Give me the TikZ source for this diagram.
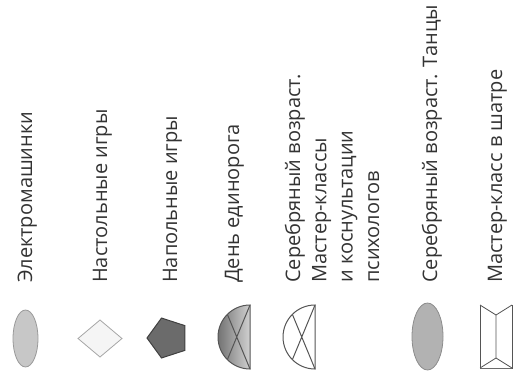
\documentclass[tikz,border=0pt]{standalone}
\usepackage{fontspec}
\setmainfont{Open Sans}
\usepackage{tikz}
\usetikzlibrary{calc}
\definecolor{lineG}{HTML}{555555}
\tikzset{
  legtext/.style={rotate=90, anchor=base west, inner sep=0pt,
                  font=\fontsize{20}{26.3}\selectfont, text=black!80},
  elLight/.style={draw=black!40, fill=black!22, line width=0.8pt},
  elMid/.style={draw=black!45, fill=black!30, line width=0.8pt},
  diaW/.style={draw=black!35, fill=black!4, line width=0.8pt},
  pentD/.style={draw=black!75, fill=black!58, line width=1pt},
  halfG/.style={draw=lineG, left color=black!55, right color=black!18,
                line width=1pt},
  halfW/.style={draw=lineG, fill=white, line width=1pt},
  tentW/.style={draw=lineG, fill=white, line width=0.8pt},
}
\begin{document}
\begin{tikzpicture}[x=1pt, y=-1pt]
    \useasboundingbox (0,0) rectangle (513,374);
    %% legend texts
    \node[legtext] (t1) at (32,283)  {Электромашинки};
    \node[legtext] (t2) at (107,283) {Настольные игры};
    \node[legtext] (t3) at (177,283) {Напольные игры};
    \node[legtext] (t4) at (239,283) {День единорога};
    \node[legtext, align=left] (t5) at (379,283)
      {Серебряный возраст.\\Мастер-классы\\и коснультации\\психологов};
    \node[legtext] (t6) at (437,283) {Серебряный возраст. Танцы};
    \node[legtext] (t7) at (502,283) {Мастер-класс в шатре};
    %% symbols
    \draw[elLight] (25.5,338.5) ellipse[x radius=12.5, y radius=28.5];
    \draw[diaW] (78,338.5) -- (100,320) -- (122,338.5) -- (100,357) -- cycle;
    \draw[pentD] (168,338) +(180:21) -- +(108:21) -- +(36:21)
                 -- +(-36:21) -- +(-108:21) -- cycle;
    %% half discs
    \coordinate (c4) at (250,337);
    \draw[halfG] (250,369) arc[start angle=90, end angle=270, radius=32] -- cycle;
    \draw[lineG, line width=1pt] (250,305) -- ($(c4)+(135:32)$)
                                 (250,369) -- ($(c4)+(225:32)$);
    \coordinate (c5) at (315,337);
    \draw[halfW] (315,369) arc[start angle=90, end angle=270, radius=32] -- cycle;
    \draw[lineG, line width=1pt] (315,305) -- ($(c5)+(135:32)$)
                                 (315,369) -- ($(c5)+(225:32)$);
    \draw[elMid] (427.5,336.5) ellipse[x radius=15.5, y radius=33.5];
    %% tent
    \draw[tentW] (480,305) rectangle (512,368);
    \draw[tentW] (480,305) -- (496,315) -- (512,305)
                 (496,315) -- (496,358)
                 (480,368) -- (496,358) -- (512,368);
  \end{tikzpicture}
\end{document}
